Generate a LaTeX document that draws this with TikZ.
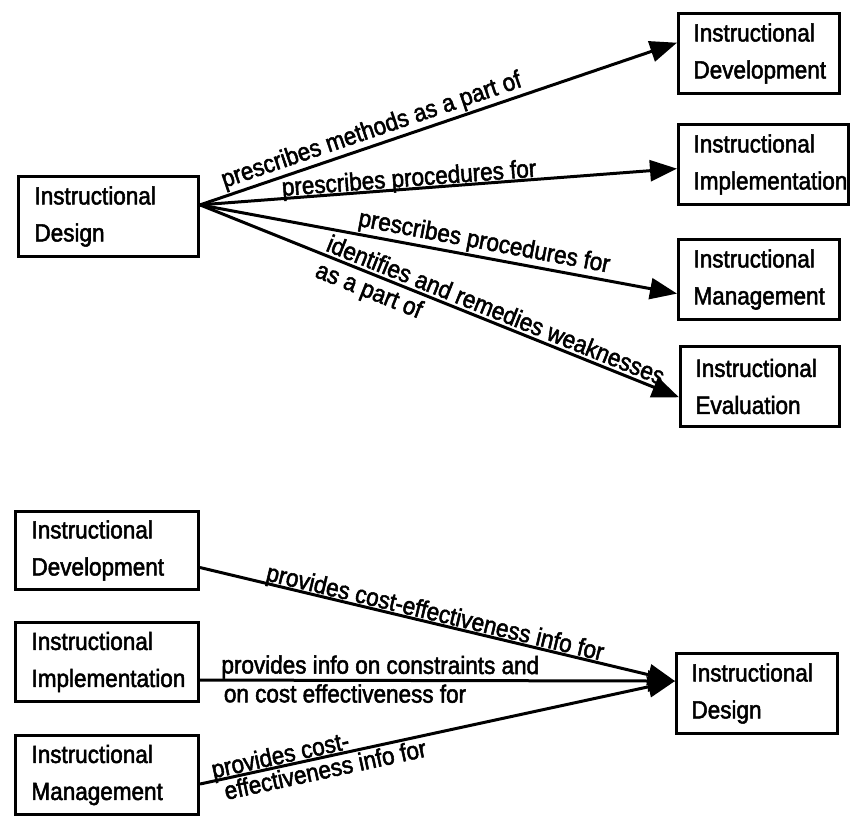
\documentclass[tikz,border=0pt]{standalone}
\usepackage{fontspec}
\setmainfont{Liberation Sans}[FakeStretch=0.9, FakeBold=2]
\usetikzlibrary{arrows.meta,calc}
\newcommand\bxfont{\fontsize{25}{37}\selectfont}
\newcommand\lblfont{\fontsize{25}{26}\selectfont}
\begin{document}
\begin{tikzpicture}[x=1pt,y=-1pt,
  box/.style={draw, line width=3pt, anchor=north west, inner xsep=16pt,
    inner ysep=0pt, align=left, font=\bxfont},
  link/.style={line width=3pt, -{Triangle[length=27pt,width=21pt]}},
  lbl/.style={font=\lblfont, sloped, inner sep=1.5pt}
]
\useasboundingbox (0,0) rectangle (852,820);
\fill[white] (0,0) rectangle (852,820);

% ---- upper group: design feeds the four functions ----
\node[box, minimum width=180pt, minimum height=80pt, text width=148pt] (dsgL) at (17,175) {Instructional\\Design};
\node[box, minimum width=161pt, minimum height=80pt, text width=131pt, inner xsep=15pt] (devR) at (677,12) {Instructional\\Development};
\node[box, minimum width=170pt, minimum height=80pt, text width=140pt, inner xsep=15pt] (impR) at (677,123) {Instructional\\Implementation};
\node[box, minimum width=161pt, minimum height=80pt, text width=131pt, inner xsep=15pt] (mgtR) at (677,238) {Instructional\\Management};
\node[box, minimum width=159pt, minimum height=80pt, text width=129pt, inner xsep=15pt] (evaR) at (679,345) {Instructional\\Evaluation};

\coordinate (o) at ($(dsgL.north east)!0.36!(dsgL.south east)$);
\coordinate (tDev) at ($(devR.north west)!0.37!(devR.south west)$);
\coordinate (tImp) at ($(impR.north west)!0.55!(impR.south west)$);
\coordinate (tMgt) at ($(mgtR.north west)!0.67!(mgtR.south west)$);
\coordinate (tEva) at ($(evaR.north west)!0.63!(evaR.south west)$);

\draw[link] (o) -- node[lbl, above, pos=0.37] {prescribes methods as a part of} (tDev);
\draw[link] (o) -- node[lbl, anchor=south, inner sep=0pt, outer sep=-2.5pt, pos=0.44] {prescribes procedures for} (tImp);
\draw[link] (o) -- node[lbl, above, pos=0.59] {prescribes procedures for} (tMgt);
\draw[link] (o) -- node[lbl, anchor=south west, inner sep=2.5pt, pos=0.25] {identifies and remedies weaknesses}
                    node[lbl, anchor=north west, inner sep=4.5pt, pos=0.245] {as a part of} (tEva);

% ---- lower group: the three functions report back to design ----
\node[box, minimum width=183pt, minimum height=78pt, text width=151pt] (devL) at (14,510) {Instructional\\Development};
\node[box, minimum width=183pt, minimum height=79pt, text width=151pt] (impL) at (14,621) {Instructional\\Implementation};
\node[box, minimum width=183pt, minimum height=79pt, text width=151pt] (mgtL) at (14,734) {Instructional\\Management};
\node[box, minimum width=161pt, minimum height=80pt, text width=131pt, inner xsep=15pt] (dsgR) at (675,652) {Instructional\\Design};

\coordinate (sDev) at ($(devL.north east)!0.71!(devL.south east)$);
\coordinate (sImp) at ($(impL.north east)!0.72!(impL.south east)$);
\coordinate (sMgt) at ($(mgtL.north east)!0.61!(mgtL.south east)$);
\coordinate (tDsg) at ($(dsgR.north west)!0.35!(dsgR.south west)$);

\draw[link] (sDev) -- node[lbl, anchor=south, inner sep=0pt, outer sep=-2.5pt, pos=0.49] {provides cost-effectiveness info for} (tDsg);
\draw[link] (sImp) -- node[lbl, anchor=south west, inner sep=0pt, pos=0.042] {provides info on constraints and}
                      node[lbl, anchor=north west, inner sep=2.5pt, pos=0.042] {on cost effectiveness for} (tDsg);
\draw[link] (sMgt) -- node[lbl, anchor=south west, inner sep=0pt, outer sep=-2.5pt, pos=0.035] {provides cost-}
                      node[lbl, anchor=north west, inner sep=1.5pt, pos=0.04] {effectiveness info for} (tDsg);
\end{tikzpicture}
\end{document}
